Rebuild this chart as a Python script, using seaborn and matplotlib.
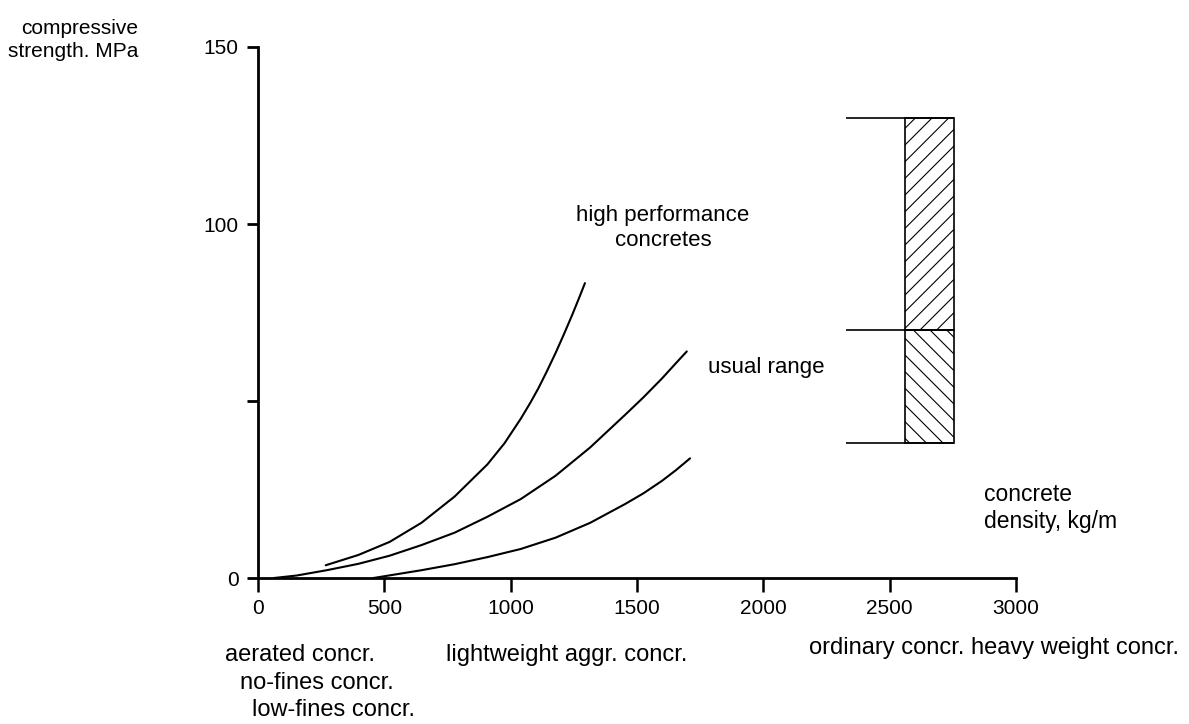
#!/usr/bin/env python3
"""
Compressive strength vs. concrete density (redrawn from a scanned textbook figure)
"""

import pandas as pd
import matplotlib
matplotlib.use("Agg")
import matplotlib.pyplot as plt
import seaborn as sns

# Curves: density in kg/m3, strength in MPa
upper_density = [268, 397, 521, 647, 778, 908, 976, 1040, 1077, 1109, 1142, 1178,
                 1211, 1244, 1273, 1294]
upper_strength = [3.6, 6.5, 10.2, 15.6, 23.0, 32.1, 38.1, 45.0, 49.4, 53.5, 58.2, 63.6,
                  68.9, 74.4, 79.5, 83.3]

middle_density = [63, 153, 272, 397, 521, 647, 778, 908, 1040, 1178, 1315, 1453,
                  1525, 1598, 1653, 1697]
middle_strength = [0.0, 0.7, 2.2, 4.0, 6.3, 9.3, 12.8, 17.3, 22.3, 28.9, 36.9, 46.1,
                   51.0, 56.3, 60.6, 64.0]

lower_density = [457, 647, 778, 908, 1040, 1178, 1315, 1453, 1525, 1598, 1653, 1710]
lower_strength = [0.0, 2.2, 3.9, 5.9, 8.2, 11.4, 15.6, 20.9, 23.9, 27.4, 30.4, 33.8]

# hatched bar for ordinary / high performance concrete
bar_density = [2559, 2755]
bar_marks_from = 2326
usual_range = [38, 70]
high_perf_range = [70, 130]

x_ticks = [0, 500, 1000, 1500, 2000, 2500, 3000]
y_ticks = [0, 50, 100, 150]
y_tick_labels = ["0", "", "100", "150"]

# Build one long table for seaborn
frames = []
for name, xs, ys in [("upper", upper_density, upper_strength),
                     ("middle", middle_density, middle_strength),
                     ("lower", lower_density, lower_strength)]:
    frames.append(pd.DataFrame({"density": xs, "strength": ys, "curve": name}))
df = pd.concat(frames, ignore_index=True)

sns.set_style("ticks", {"axes.edgecolor": "black", "text.color": "black",
                        "xtick.color": "black", "ytick.color": "black"})
plt.rcParams['font.family'] = ['Liberation Sans', 'DejaVu Sans']
plt.rcParams['hatch.linewidth'] = 0.8
plt.rcParams['hatch.color'] = 'black'

fig = plt.figure(figsize=(11.89, 7.24), dpi=100)
ax = fig.add_axes([258 / 1189, 1 - 578 / 724, (1016 - 258) / 1189, (578 - 47) / 724])

sns.lineplot(data=df, x="density", y="strength", hue="curve", units="curve",
             estimator=None, sort=False, palette=["black"] * 3, linewidth=1.5,
             legend=False, ax=ax)

# hatched bar: upper part = high performance, lower part = usual range
bar_w = bar_density[1] - bar_density[0]
ax.bar(bar_density[0], high_perf_range[1] - high_perf_range[0], width=bar_w,
       bottom=high_perf_range[0], align="edge", fill=False, hatch="//",
       edgecolor="black", linewidth=1.2)
ax.bar(bar_density[0], usual_range[1] - usual_range[0], width=bar_w,
       bottom=usual_range[0], align="edge", fill=False, hatch="\\\\",
       edgecolor="black", linewidth=1.2)
ax.hlines([usual_range[0], usual_range[1], high_perf_range[1]],
          bar_marks_from, bar_density[1], color="black", linewidth=1.2)

ax.set_xlim(0, 3000)
ax.set_ylim(0, 150)
ax.set_xticks(x_ticks)
ax.set_yticks(y_ticks)
ax.set_yticklabels(y_tick_labels)
ax.set_xlabel("")
ax.set_ylabel("")
sns.despine(ax=ax)
for side in ["left", "bottom"]:
    ax.spines[side].set_linewidth(2)
ax.tick_params(axis="y", length=8, width=2, labelsize=15, pad=6)
ax.tick_params(axis="x", length=10, width=1.8, labelsize=15, pad=5)

# labels
fig.text(138 / 1189, 1 - 40 / 724, "compressive\nstrength. MPa", ha="right", va="center",
         multialignment="right", fontsize=15, linespacing=1.25)
fig.text(663 / 1189, 1 - 228 / 724, "high performance\nconcretes", ha="center",
         va="center", fontsize=16, linespacing=1.3)
fig.text(708 / 1189, 1 - 368 / 724, "usual range", ha="left", va="center", fontsize=16)
fig.text(984 / 1189, 1 - 508 / 724, "concrete\ndensity, kg/m", ha="left", va="center",
         fontsize=16.5, linespacing=1.25)

fig.text(225 / 1189, 1 - 655 / 724, "aerated concr.", ha="left", va="center", fontsize=17)
fig.text(240 / 1189, 1 - 683 / 724, "no-fines concr.", ha="left", va="center", fontsize=17)
fig.text(252 / 1189, 1 - 710 / 724, "low-fines concr.", ha="left", va="center", fontsize=17)
fig.text(446 / 1189, 1 - 655 / 724, "lightweight aggr. concr.", ha="left", va="center",
         fontsize=17)
fig.text(809 / 1189, 1 - 648 / 724, "ordinary concr. heavy weight concr.", ha="left",
         va="center", fontsize=17)

fig.savefig("out.png", dpi=100, facecolor="white")
